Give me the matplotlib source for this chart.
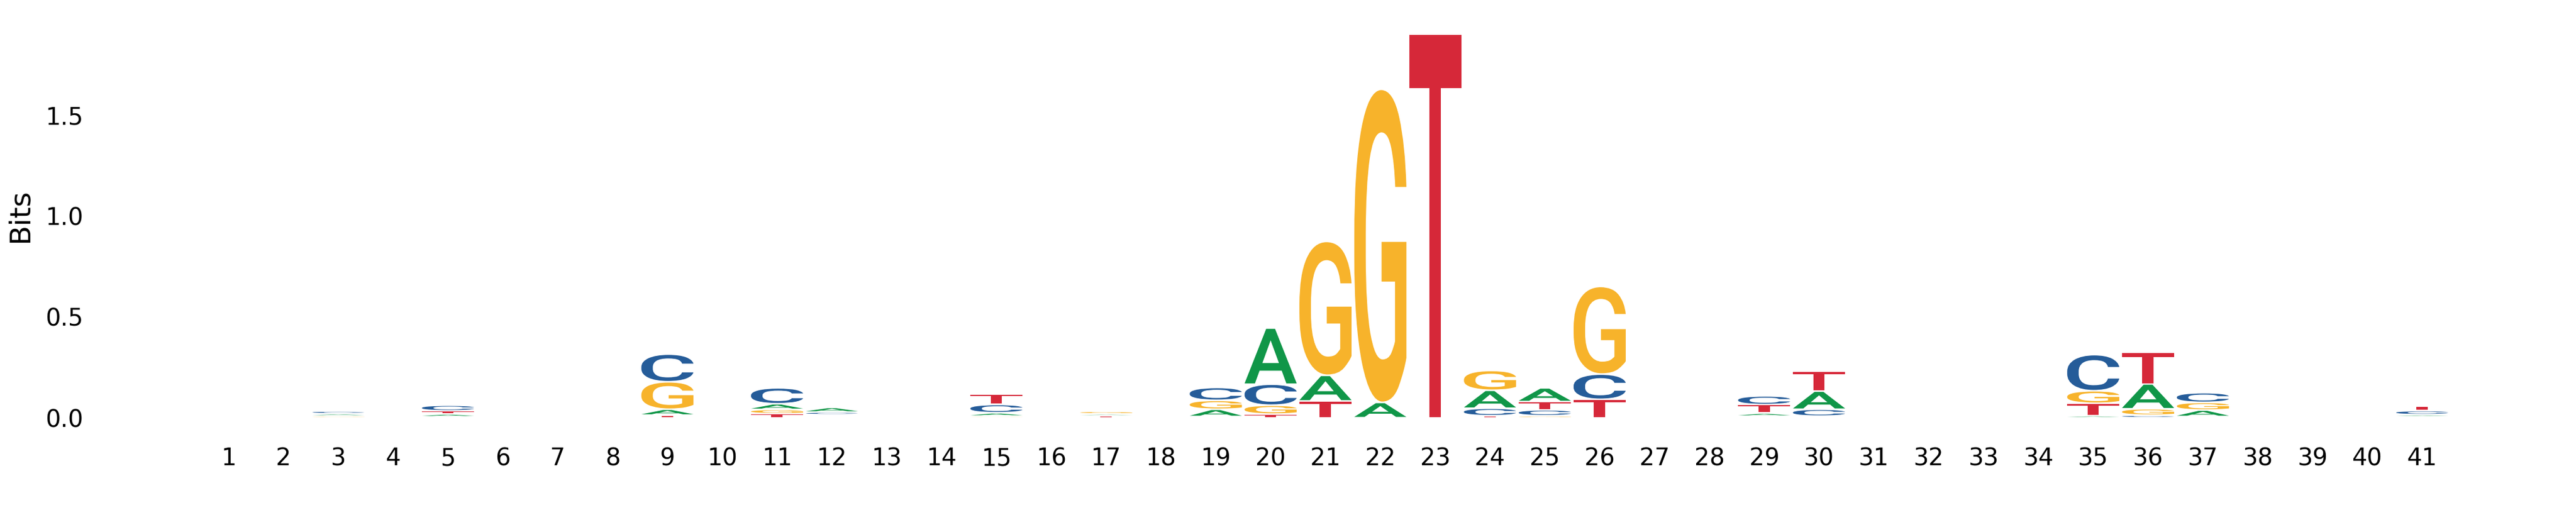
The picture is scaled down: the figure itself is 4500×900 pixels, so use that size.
import matplotlib
matplotlib.use("Agg")
import matplotlib.pyplot as plt
from matplotlib.textpath import TextPath
from matplotlib.patches import PathPatch
from matplotlib.font_manager import FontProperties
from matplotlib.transforms import Affine2D

# ===== DATA (bits per letter, positions 1..41) =====
positions = list(range(1, 42))
letters = ["A", "C", "G", "T"]

bits_A = [0, 0, 0.011, 0, 0.014, 0, 0, 0, 0.029, 0,
          0.028, 0.023, 0, 0, 0.016, 0, 0.0095, 0, 0.036, 0.278,
          0.127, 0.076, 0, 0.089, 0.068, 0, 0, 0, 0.015, 0.090,
          0, 0, 0, 0, 0.0104, 0.123, 0.032, 0, 0, 0,
          0.010]
bits_C = [0, 0, 0.013, 0, 0.028, 0, 0, 0, 0.137, 0,
          0.079, 0.013, 0, 0, 0.041, 0, 0, 0, 0.064, 0.104,
          0, 0, 0, 0.037, 0.029, 0.125, 0, 0, 0.043, 0.034,
          0, 0, 0, 0, 0.179, 0.0127, 0.048, 0, 0, 0,
          0.020]
bits_G = [0, 0, 0.009, 0, 0.005, 0, 0, 0, 0.136, 0,
          0.021, 0.008, 0, 0, 0.0085, 0, 0.013, 0, 0.044, 0.044,
          0.663, 1.55, 0, 0.098, 0.010, 0.434, 0, 0, 0.008, 0.008,
          0, 0, 0, 0, 0.062, 0.0316, 0.038, 0, 0, 0,
          0.005]
bits_T = [0, 0, 0, 0, 0.015, 0, 0, 0, 0.013, 0,
          0.020, 0.007, 0, 0, 0.051, 0, 0.0094, 0, 0.006, 0.018,
          0.083, 0, 1.90, 0.010, 0.041, 0.091, 0, 0, 0.042, 0.099,
          0, 0, 0, 0, 0.061, 0.157, 0.006, 0, 0, 0,
          0.024]

colors = {"A": "#109648", "C": "#255C99", "G": "#F7B32B", "T": "#D62839"}

# ===== STYLE =====
WIDTH = 0.95
VSEP = 0.008
glyph_font = FontProperties(family="Roboto", weight="medium")


def draw_glyph(ax, ch, x, floor, ceiling, color):
    h = ceiling - floor
    if h <= 0:
        return
    tp = TextPath((0, 0), ch, size=1, prop=glyph_font)
    ext = tp.get_extents()
    tr = (Affine2D()
          .translate(-ext.x0, -ext.y0)
          .scale(WIDTH / ext.width, h / ext.height)
          .translate(x - WIDTH / 2, floor))
    ax.add_patch(PathPatch(tr.transform_path(tp), facecolor=color,
                           edgecolor="none", lw=0))


fig = plt.figure(figsize=(15, 3), dpi=300)
ax = fig.add_axes([160 / 4500, 170 / 900, 4311 / 4500, 706 / 900])

table = {"A": bits_A, "C": bits_C, "G": bits_G, "T": bits_T}
for i, p in enumerate(positions):
    vals = sorted([(table[c][i], c) for c in letters])
    floor = 0.0
    for v, c in vals:
        if v <= 0:
            continue
        draw_glyph(ax, c, p, floor + VSEP / 2, floor + v - VSEP / 2, colors[c])
        floor += v

ax.set_xlim(-1.5, 43.5)
ax.set_ylim(0, 2.0)
ax.set_xticks(positions)
ax.set_xticklabels([str(p) for p in positions])
ax.set_yticks([0, 0.5, 1.0, 1.5])
ax.tick_params(length=0, labelsize=10, pad=3.5)
ax.tick_params(axis="x", pad=12)
ax.set_ylabel("Bits", fontsize=12, labelpad=5)
for s in ax.spines.values():
    s.set_visible(False)

fig.savefig("out.png", dpi=300)
